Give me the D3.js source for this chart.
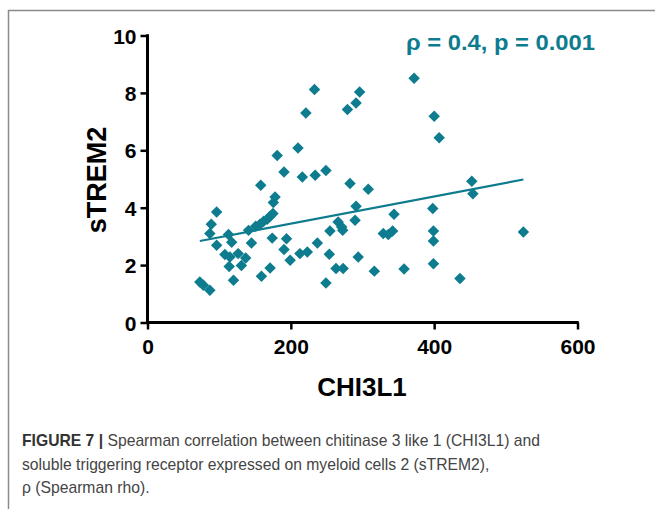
<!DOCTYPE html>
<html>
<head>
<meta charset="utf-8">
<script src="https://cdn.jsdelivr.net/npm/d3@7"></script>
<style>
  body { margin: 0; background: #fff; }
  svg { display: block; }
</style>
</head>
<body>
<div id="chart"></div>
<script>
// CHI3L1 (x) vs sTREM2 (y)
const chi3l1 = [73, 78, 87, 96.5, 89, 87, 96.5, 113, 117.5, 108, 115, 126.5, 137, 131, 114, 120,
  141, 145, 159, 171, 174, 194, 190.5, 199, 212.7, 223, 158, 178, 175.6, 190.5, 216, 234, 249,
  181, 210, 221, 233, 279, 291, 296, 372, 400, 407, 282.6, 308, 452.5, 454, 291, 398, 344, 266,
  289.6, 254.6, 272.4, 329, 336, 342, 399, 399, 524.5, 237, 253.7, 294, 263, 273, 316.5, 358,
  399, 436, 249, 151, 157, 162, 167, 171, 175, 271];
const strem2 = [1.41, 1.30, 1.12, 3.85, 3.42, 3.10, 2.69, 3.07, 2.80, 2.37, 2.28, 2.40, 2.25, 1.99, 1.95, 1.47,
  3.21, 2.77, 1.61, 1.90, 2.94, 2.92, 2.54, 2.17, 2.40, 2.46, 4.78, 4.37, 4.18, 5.24, 5.07, 5.13, 5.30,
  5.82, 6.08, 7.30, 8.12, 7.42, 7.65, 8.03, 8.51, 7.19, 6.44, 4.84, 4.64, 4.92, 4.49, 4.05, 3.97, 3.77, 3.50,
  3.56, 3.19, 3.21, 3.10, 3.07, 3.19, 3.19, 2.84, 3.15, 2.77, 2.38, 2.28, 1.88, 1.88, 1.79, 1.86,
  2.05, 1.53, 1.38, 3.35, 3.42, 3.53, 3.60, 3.70, 3.80, 3.33];

// fitted line as drawn in the figure: [intercept, slope]
const fit = [2.494, 0.004745];

const xTicks = [0, 200, 400, 600];
const yTicks = [0, 2, 4, 6, 8, 10];

const statLabel = "\u03c1 = 0.4, p = 0.001";
const captionLines = [
  ["FIGURE 7 | ", "Spearman correlation between chitinase 3 like 1 (CHI3L1) and"],
  ["", "soluble triggering receptor expressed on myeloid cells 2 (sTREM2),"],
  ["", "\u03c1 (Spearman rho)."]
];

const width = 655, height = 509;
const teal = "#0e7c8f";
const font = "'Liberation Sans', Arial, Helvetica, sans-serif";

const svg = d3.select("#chart").append("svg")
  .attr("width", width)
  .attr("height", height);

// figure frame (only top and left edges are visible)
svg.append("path")
  .attr("d", "M8.5,520 L8.5,10.5 L670,10.5")
  .attr("fill", "none")
  .attr("stroke", "#8a8a8a")
  .attr("stroke-width", 1.5);

const x = d3.scaleLinear().domain([0, 600]).range([147.5, 577.5]);
const y = d3.scaleLinear().domain([0, 10]).range([322.5, 35.5]);

// axes
const xAxis = svg.append("g")
  .attr("transform", `translate(0,${y(0)})`)
  .call(d3.axisBottom(x).tickValues(xTicks).tickSize(7).tickPadding(6).tickFormat(d3.format("d")));
const yAxis = svg.append("g")
  .attr("transform", `translate(${x(0)},0)`)
  .call(d3.axisLeft(y).tickValues(yTicks).tickSize(7).tickPadding(4).tickFormat(d3.format("d")));

[xAxis, yAxis].forEach(g => {
  g.select(".domain").remove();
  g.selectAll(".tick line").attr("stroke", "#000").attr("stroke-width", 2.5);
  g.selectAll(".tick text")
    .attr("fill", "#000")
    .style("font-family", font)
    .style("font-weight", "bold")
    .style("font-size", "21px");
});
// axis lines drawn plain so they meet at the origin
svg.append("line")
  .attr("x1", x(0) - 1.5).attr("x2", x(600) + 1.2)
  .attr("y1", y(0)).attr("y2", y(0))
  .attr("stroke", "#000").attr("stroke-width", 3);
svg.append("line")
  .attr("x1", x(0)).attr("x2", x(0))
  .attr("y1", y(0) + 1.5).attr("y2", y(10) - 1.2)
  .attr("stroke", "#000").attr("stroke-width", 3);
yAxis.selectAll(".tick text").attr("dy", "0.36em");
xAxis.selectAll(".tick text").attr("dy", "0.9em");

// axis titles
svg.append("text")
  .attr("x", 362).attr("y", 396)
  .attr("text-anchor", "middle")
  .style("font-family", font).style("font-weight", "bold").style("font-size", "26px")
  .text("CHI3L1");
svg.append("text")
  .attr("transform", `translate(106,180) rotate(-90)`)
  .attr("text-anchor", "middle")
  .style("font-family", font).style("font-weight", "bold").style("font-size", "27px")
  .text("sTREM2");

// fitted line
const xMin = d3.min(chi3l1), xMax = d3.max(chi3l1);
svg.append("line")
  .attr("x1", x(xMin)).attr("y1", y(fit[0] + fit[1] * xMin))
  .attr("x2", x(xMax)).attr("y2", y(fit[0] + fit[1] * xMax))
  .attr("stroke", teal)
  .attr("stroke-width", 2.2);

// diamonds
const points = chi3l1.map((v, i) => ({ x: v, y: strem2[i] }));
svg.append("g")
  .selectAll("path")
  .data(points)
  .join("path")
  .attr("d", d3.symbol(d3.symbolSquare, 66))
  .attr("transform", d => `translate(${x(d.x)},${y(d.y)}) rotate(45)`)
  .attr("fill", teal);

// stat label (original face is wider, so stretch to its width)
svg.append("text")
  .attr("x", 406).attr("y", 50)
  .attr("textLength", 189)
  .attr("lengthAdjust", "spacingAndGlyphs")
  .attr("fill", teal)
  .style("font-family", font).style("font-weight", "bold").style("font-size", "22px")
  .text(statLabel);

// caption
const cap = svg.append("g")
  .style("font-family", font)
  .style("font-size", "15.7px");
captionLines.forEach((line, i) => {
  const t = cap.append("text")
    .attr("x", 22)
    .attr("y", 446 + i * 23.5);
  if (line[0]) t.append("tspan").attr("fill", "#333").style("font-weight", "bold").text(line[0]);
  t.append("tspan").attr("fill", "#444").text(line[1]);
});
</script>
</body>
</html>
